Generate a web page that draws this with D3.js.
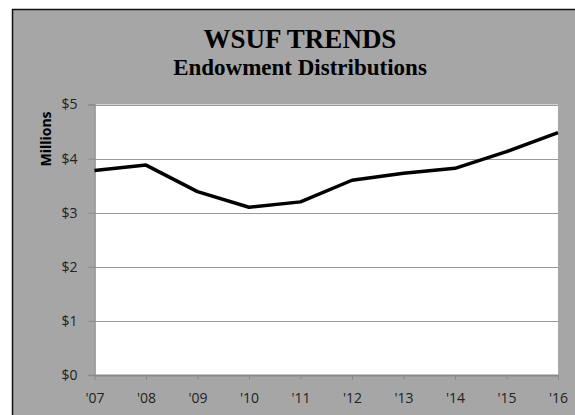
<!DOCTYPE html>
<html>
<head>
<meta charset="utf-8">
<script src="https://cdn.jsdelivr.net/npm/d3@7"></script>
<style>
  body { margin: 0; background: #fff; }
</style>
</head>
<body>
<div id="chart"></div>
<script>
var years = ["'07", "'08", "'09", "'10", "'11", "'12", "'13", "'14", "'15", "'16"];
var distributions = [3.78, 3.88, 3.39, 3.10, 3.20, 3.60, 3.73, 3.82, 4.13, 4.48];
var yTicks = [0, 1, 2, 3, 4, 5];

var W = 575, H = 415;
var svg = d3.select('#chart').append('svg')
  .attr('width', W)
  .attr('height', H);

// outer frame
svg.append('rect')
  .attr('x', 12.5).attr('y', 9.5)
  .attr('width', W).attr('height', H)
  .attr('fill', '#a6a6a6')
  .attr('stroke', '#111')
  .attr('stroke-width', 1.5);

var plot = {left: 94.5, top: 104.5, right: 558, bottom: 375};

var x = d3.scalePoint()
  .domain(years)
  .range([plot.left, plot.right]);

var y = d3.scaleLinear()
  .domain([0, 5])
  .range([plot.bottom, plot.top]);

svg.append('rect')
  .attr('x', plot.left).attr('y', plot.top)
  .attr('width', plot.right - plot.left)
  .attr('height', plot.bottom - plot.top)
  .attr('fill', '#fff');

// gridlines
svg.append('g').selectAll('line').data(yTicks.slice(1))
  .enter().append('line')
  .attr('x1', plot.left).attr('x2', plot.right)
  .attr('y1', function(d) { return Math.round(y(d)) + 0.5; })
  .attr('y2', function(d) { return Math.round(y(d)) + 0.5; })
  .attr('stroke', '#9a9a9a')
  .attr('stroke-width', 1);

var yAxis = svg.append('g')
  .attr('transform', 'translate(' + plot.left + ',0)')
  .call(d3.axisLeft(y).tickValues(yTicks).tickSize(6).tickPadding(11)
    .tickFormat(function(d) { return '$' + d; }));
yAxis.select('.domain').attr('stroke', '#8a8a8a').attr('stroke-width', 1.5);
yAxis.selectAll('.tick line').attr('stroke', '#8a8a8a');

var xAxis = svg.append('g')
  .attr('transform', 'translate(0,' + plot.bottom + ')')
  .call(d3.axisBottom(x).tickSize(5).tickPadding(13).tickSizeOuter(0));
xAxis.select('.domain').attr('stroke', '#888').attr('stroke-width', 2);
xAxis.selectAll('.tick line').attr('stroke', '#8a8a8a');

svg.selectAll('.tick text')
  .attr('fill', '#222')
  .style('font-family', '"Open Sans", sans-serif')
  .style('font-size', '14px');

// series line
var line = d3.line()
  .x(function(d, i) { return x(years[i]); })
  .y(function(d) { return y(d); });

svg.append('path')
  .datum(distributions)
  .attr('d', line)
  .attr('fill', 'none')
  .attr('stroke', '#000')
  .attr('stroke-width', 3.5)
  .attr('stroke-linejoin', 'round');

// titles
svg.append('text')
  .attr('x', 300).attr('y', 47.5)
  .attr('text-anchor', 'middle')
  .style('font-family', '"Liberation Serif", "DejaVu Serif", serif')
  .style('font-weight', 'bold')
  .style('font-size', '27px')
  .text('WSUF TRENDS');

svg.append('text')
  .attr('x', 300).attr('y', 75)
  .attr('text-anchor', 'middle')
  .style('font-family', '"Liberation Serif", "DejaVu Serif", serif')
  .style('font-weight', 'bold')
  .style('font-size', '23px')
  .text('Endowment Distributions');

svg.append('text')
  .attr('transform', 'translate(51,139) rotate(-90)')
  .attr('text-anchor', 'middle')
  .style('font-family', '"Open Sans", sans-serif')
  .style('font-weight', 'bold')
  .style('font-size', '14px')
  .text('Millions');
</script>
</body>
</html>
